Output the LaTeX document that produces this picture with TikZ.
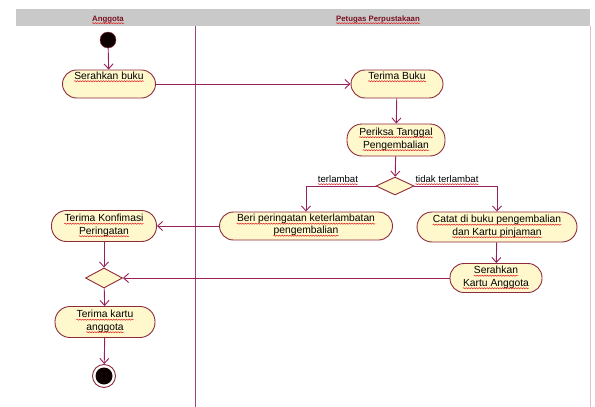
\documentclass[tikz,border=0pt]{standalone}
\usepackage{fontspec}
\setmainfont{Liberation Sans}
\usetikzlibrary{arrows.meta,shapes.geometric,decorations.pathmorphing}

\definecolor{flowline}{HTML}{95205A}
\definecolor{boxline}{HTML}{8E2B3B}
\definecolor{boxfill}{HTML}{FFF8CC}
\definecolor{headgray}{HTML}{C9C9C9}
\definecolor{headtext}{HTML}{7A1020}
\definecolor{laneline}{HTML}{9C4878}
\definecolor{squig}{HTML}{E02828}

\tikzset{
  act/.style={draw=boxline, line width=0.9pt, fill=boxfill, rounded corners=14pt},
  decide/.style={diamond, draw=boxline, line width=0.9pt, fill=boxfill, inner sep=0pt},
  flow/.style={draw=flowline, line width=0.9pt, -{Straight Barb[length=5pt,width=9pt,line width=0.9pt]}},
  tx/.style={font=\fontsize{10.3}{12}\selectfont, text=black, inner sep=0pt, anchor=base},
  guard/.style={font=\fontsize{9.6}{11}\selectfont, text=black, inner sep=0pt, anchor=base},
  lanehead/.style={font=\bfseries\fontsize{7.8}{9}\selectfont, text=headtext, inner sep=0pt, anchor=base},
  squiggle/.style={draw=squig, line width=0.55pt,
    decorate, decoration={snake, amplitude=0.55pt, segment length=2.6pt}},
}

% one line of text with a wavy red underline below it
\newcommand{\txtline}[4][tx]{%
  \node[#1] (#2) at (#3) {#4};
  \draw[squiggle] ([yshift=-2.2pt]#2.base west) -- ([yshift=-2.2pt]#2.base east);
}

\begin{document}
\begin{tikzpicture}[x=1pt, y=-1pt]
  \useasboundingbox (0,0) rectangle (595,407);

  % swimlane headers and divider
  \fill[headgray] (16,9) rectangle (590,26);
  \txtline[lanehead]{hA}{108,21}{Anggota}
  \txtline[lanehead]{hP}{378,21}{Petugas Perpustakaan}
  \draw[laneline, line width=1pt] (195,26) -- (195,407);
  \draw[laneline!35, line width=0.6pt] (590,26) -- (590,407);

  % initial and final states
  \node[circle, draw=boxline, fill=black!95!red, minimum size=16pt, inner sep=0pt] (start) at (108,40) {};
  \node[circle, draw=boxline, line width=0.9pt, fill=white, minimum size=23pt, inner sep=0pt] (stop) at (104,376) {};
  \fill[black!95!red] (stop.center) circle (8.5pt);

  % action boxes
  \node[act, minimum width=93pt, minimum height=28pt] (sb) at (109,84) {};
  \node[act, minimum width=92pt, minimum height=28pt] (tb) at (397,84) {};
  \node[act, minimum width=98pt, minimum height=32pt, rounded corners=15pt] (pt) at (396,140) {};
  \node[decide, minimum width=38pt, minimum height=18pt] (d1) at (395,186) {};
  \node[act, minimum width=173pt, minimum height=28pt] (beri) at (306,226) {};
  \node[act, minimum width=160pt, minimum height=30pt, rounded corners=15pt] (catat) at (497,227) {};
  \node[act, minimum width=92pt, minimum height=29pt] (sk) at (496,278) {};
  \node[act, minimum width=105pt, minimum height=31pt, rounded corners=15pt] (tk) at (104,226) {};
  \node[decide, minimum width=37pt, minimum height=20pt] (d2) at (104,278) {};
  \node[act, minimum width=100pt, minimum height=31pt, rounded corners=15pt] (tka) at (105,322) {};

  % action texts
  \txtline{sbA}{[yshift=5pt]sb.center}{Serahkan buku}
  \txtline{tbA}{[yshift=5pt]tb.center}{Terima Buku}
  \txtline{ptA}{[yshift=5pt]pt.center}{Periksa Tanggal}
  \txtline{ptB}{[yshift=-8pt]pt.center}{Pengembalian}
  \txtline{beriA}{[yshift=4.5pt]beri.center}{Beri peringatan keterlambatan}
  \txtline{beriB}{[yshift=-7.5pt]beri.center}{pengembalian}
  \txtline{catatA}{[yshift=4.5pt]catat.center}{Catat di buku pengembalian}
  \txtline{catatB}{[yshift=-8pt]catat.center}{dan Kartu pinjaman}
  \txtline{skA}{[yshift=4.5pt]sk.center}{Serahkan}
  \txtline{skB}{[yshift=-8pt]sk.center}{Kartu Anggota}
  \txtline{tkA}{[yshift=4.5pt]tk.center}{Terima Konfimasi}
  \txtline{tkB}{[yshift=-8pt]tk.center}{Peringatan}
  \txtline{tkaA}{[yshift=4.5pt]tka.center}{Terima kartu}
  \txtline{tkaB}{[yshift=-8pt]tka.center}{anggota}

  % guards
  \txtline[guard]{g1}{338,182}{terlambat}
  \txtline[guard]{g2}{447,182}{tidak terlambat}

  % control flow
  \draw[flow] (start) -- (sb);
  \draw[flow] (sb.east) -- (tb.west);
  \draw[flow] (tb) -- (pt);
  \draw[flow] (pt) -- (d1);
  \draw[flow] (d1.west) -| (beri.north);
  \draw[flow] (d1.east) -| (catat.north);
  \draw[flow] (beri.west) -- (tk.east);
  \draw[flow] (catat) -- (sk);
  \draw[flow] (sk.west) -- (d2.east);
  \draw[flow] (tk) -- (d2);
  \draw[flow] (d2) -- (tka);
  \draw[flow] (tka) -- (stop);
\end{tikzpicture}
\end{document}
